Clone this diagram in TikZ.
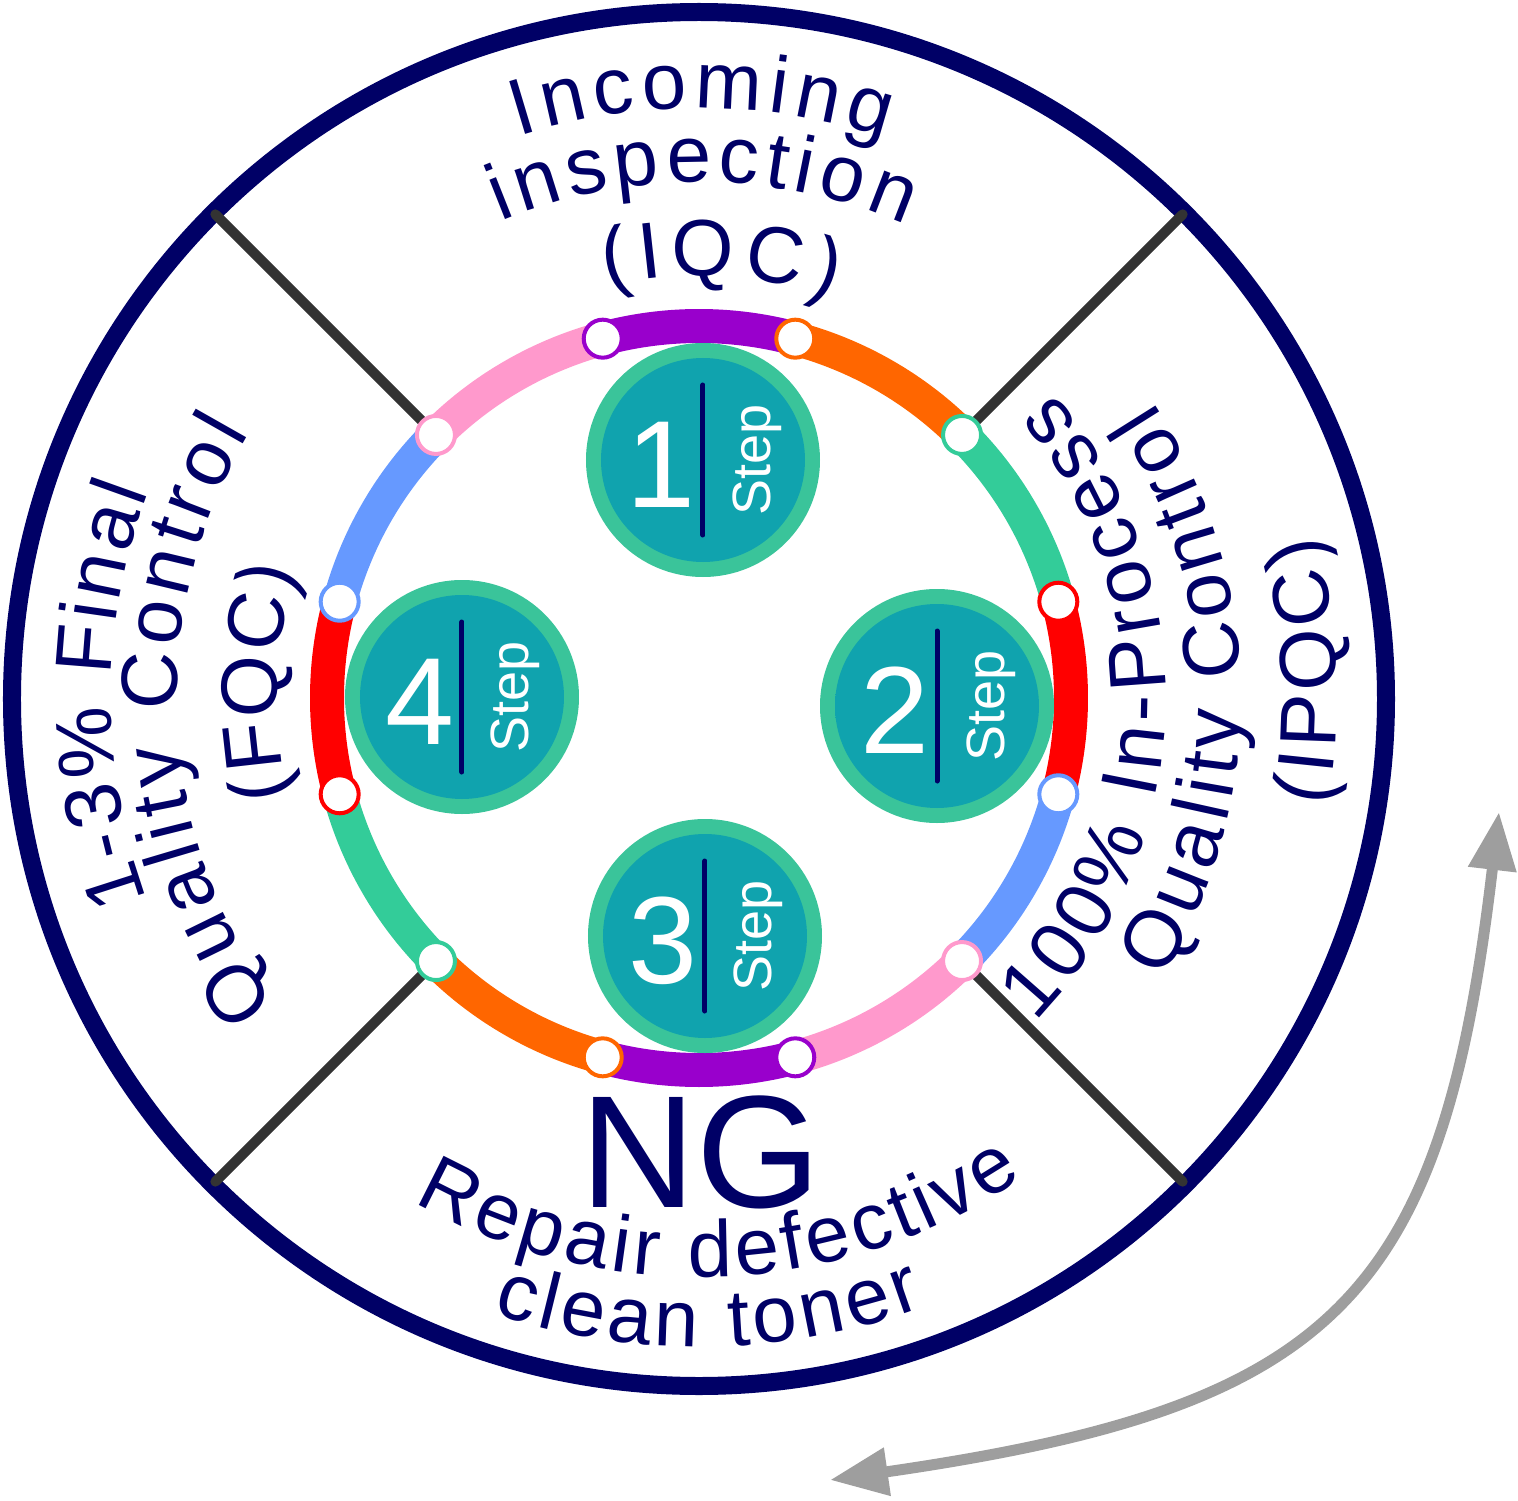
\documentclass[tikz,border=0pt]{standalone}
\usepackage{fontspec}
\setmainfont{Liberation Sans}
\usepackage{tikz}
\usetikzlibrary{arrows.meta,decorations.text}

\definecolor{navy}{HTML}{000066}
\definecolor{spokegray}{HTML}{333333}
\definecolor{arrowgray}{HTML}{9E9E9E}
\definecolor{segred}{HTML}{FF0000}
\definecolor{seggreen}{HTML}{33CC99}
\definecolor{segorange}{HTML}{FF6600}
\definecolor{segpurple}{HTML}{9900CC}
\definecolor{segpink}{HTML}{FF99CC}
\definecolor{segblue}{HTML}{6699FF}
\definecolor{diskgreen}{HTML}{3AC49A}
\definecolor{coreA}{HTML}{10A3AE}
\definecolor{coreB}{HTML}{20BDC9}
\pgfdeclareradialshading{stepglow}{\pgfpoint{0bp}{0bp}}{%
  color(0bp)=(coreA); color(34bp)=(coreA); color(50bp)=(coreB)}
\newcommand\arcfont{\fontsize{80}{96}\selectfont}

\begin{document}
\begin{tikzpicture}[x=1pt, y=1pt,
    rim/.style = {draw=navy, line width=18pt},
  spoke/.style = {draw=spokegray, line width=10pt, line cap=round},
    seg/.style = {line width=34pt},% pieces of the coloured ring
    dot/.style = {circle, fill=white, line width=4pt,
                  minimum size=38pt, inner sep=0pt},
   disk/.style = {circle, fill=diskgreen, minimum size=234pt, inner sep=0pt},
   core/.style = {circle, shade, shading=stepglow, minimum size=204pt,
                  inner sep=0pt},
    bar/.style = {draw=navy, line width=5pt, line cap=round},
    num/.style = {text=white, font=\fontsize{124}{124}\selectfont,
                  inner sep=0pt, anchor=base},
   word/.style = {text=white, font=\fontsize{54}{54}\selectfont,
                  inner sep=0pt, anchor=base, rotate=90},
 curved/.style = {decorate, decoration={text along path,
                  text align=fit to path, text color=navy,
                  text={|\arcfont|#1}}},
   flow/.style = {draw=arrowgray, line width=11pt,
                  {Triangle[length=58pt,width=46pt]}-{Triangle[length=58pt,width=46pt]}},
                        ]
\useasboundingbox (-699,-802) rectangle (819,698);
\coordinate (O) at (0,0);
\draw[rim] (0,-1) circle[radius=687];
\foreach \a in {45,135,225,315}{% <-- spokes between ring and rim
    \coordinate (in\a) at (\a:372);
    \coordinate (out\a) at (\a:684);
    \draw[spoke] (in\a) -- (out\a);
}
\foreach \c [count=\i from 0] in {segred,seggreen,segorange,segpurple,segpink,segblue,
                                  segred,seggreen,segorange,segpurple,segpink,segblue}
    \draw[seg, \c] ({-15+30*\i}:372) arc[start angle={-15+30*\i}, end angle={15+30*\i}, radius=372];
\foreach \c [count=\i from 0] in {segred,seggreen,segorange,segpurple,segpink,segblue,
                                  segred,seggreen,segorange,segpurple,segpink,segblue}
    \node[dot, draw=\c] (j\i) at ({15+30*\i}:372) {};
\foreach \n/\x/\y in {1/4/238, 2/238/-8, 3/6/-238, 4/-237/1}{% <-- the four steps
    \node[disk] (st\n) at (\x,\y) {};
    \node[core] (core\n) at (st\n) {};
    \draw[bar] ([yshift=-75pt]st\n.center) -- ([yshift=75pt]st\n.center);
    \node[num] (num\n) at ([shift={(-42,-47)}]st\n.center) {\n};
    \node[word] (word\n) at ([xshift=67pt]st\n.center) {Step};
}
% top
\path[curved={Incoming}] (107.8:590) arc[start angle=107.8, end angle=71.6, radius=590];
\path[curved={inspection}] (112.6:516) arc[start angle=112.6, end angle=66.4, radius=516];
\path[curved={(IQC)}] (102.6:422) arc[start angle=102.6, end angle=71.5, radius=422];
% right
\path[curved={100{\%} In-Process}] (-44:467) arc[start angle=-44, end angle=40.7, radius=467];
\path[curved={Quality Control}] (-31.2:542) arc[start angle=-31.2, end angle=33.1, radius=542];
\path[curved={(IPQC)}] (-9.8:638) arc[start angle=-9.8, end angle=14.8, radius=638];
% left
\path[curved={1-3{\%} Final}] (200:588) arc[start angle=200, end angle=159.5, radius=588];
\path[curved={Quality Control}] (216:522) arc[start angle=216, end angle=149.5, radius=522];
\path[curved={(FQC)}] (193.5:422) arc[start angle=193.5, end angle=162.5, radius=422];
% bottom
\node[font=\fontsize{160}{160}\selectfont, text=navy, anchor=base, inner sep=0pt] (ng) at (2,-509) {NG};
\path[curved={Repair defective}] (-119.5:579) arc[start angle=-119.5, end angle=-56, radius=579];
\path[curved={clean toner}] (-108.5:649) arc[start angle=-108.5, end angle=-69.7, radius=649];
\coordinate (arrA) at (131,-782);
\coordinate (arrB) at (800,-114);
\draw[flow] (arrA) .. controls (636,-709) and (743,-602) .. (arrB);
\end{tikzpicture}
\end{document}
